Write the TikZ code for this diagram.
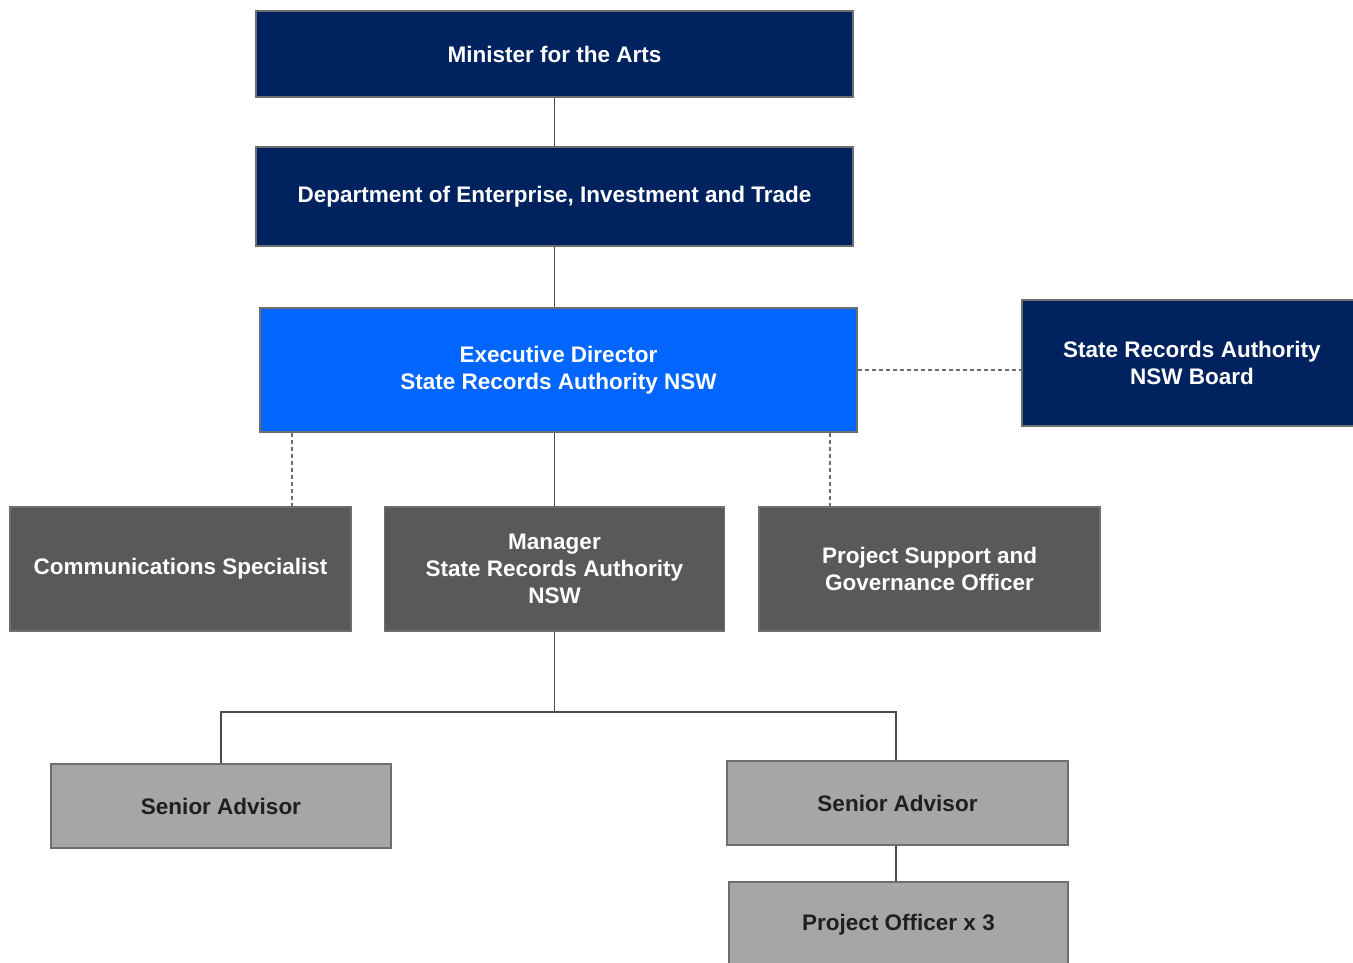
\documentclass[tikz,border=0pt]{standalone}
\usepackage{fontspec}
\setmainfont{Liberation Sans}
\definecolor{navy}{HTML}{002360}
\definecolor{brightblue}{HTML}{0066FF}
\definecolor{darkgrey}{HTML}{595959}
\definecolor{lightgrey}{HTML}{A6A6A6}
\definecolor{edgegrey}{HTML}{6E6E6E}
\definecolor{linegrey}{HTML}{4A4A4A}
\tikzset{
  box/.style={draw=edgegrey, line width=1.2pt, inner sep=0pt, align=center,
    font=\fontsize{22.5}{27}\selectfont\bfseries},
  navybox/.style={box, fill=navy, text=white},
  bluebox/.style={box, fill=brightblue, text=white},
  darkbox/.style={box, fill=darkgrey, text=white},
  lightbox/.style={box, fill=lightgrey, text=black!88},
  solidlink/.style={draw=linegrey, line width=1.5pt},
  dashlink/.style={draw=edgegrey, line width=1.5pt, dash pattern=on 4pt off 3pt},
}
\begin{document}
\begin{tikzpicture}[x=1pt,y=-1pt]
\useasboundingbox (0,0) rectangle (1353,962);
\node[navybox, minimum width=597pt, minimum height=86pt] (min) at (554.5,54) {Minister for the Arts};
\node[navybox, minimum width=597pt, minimum height=99pt] (dept) at (554.5,196.5) {Department of Enterprise, Investment and Trade};
\node[bluebox, minimum width=597pt, minimum height=124pt] (exec) at (558.5,370) {Executive Director\\State Records Authority NSW};
\node[navybox, minimum width=340pt, minimum height=126pt] (board) at (1192,363) {State Records Authority\\NSW Board};
\node[darkbox, minimum width=341pt, minimum height=124pt] (comm) at (180.5,569) {Communications Specialist};
\node[darkbox, minimum width=340pt, minimum height=124pt] (mgr) at (554.5,569) {Manager\\State Records Authority\\NSW};
\node[darkbox, minimum width=341pt, minimum height=124pt] (proj) at (929.5,569) {Project Support and\\Governance Officer};
\node[lightbox, minimum width=340pt, minimum height=84pt] (sa1) at (221,806) {Senior Advisor};
\node[lightbox, minimum width=341pt, minimum height=84pt] (sa2) at (897.5,803) {Senior Advisor};
\node[lightbox, minimum width=339pt, minimum height=86pt] (po) at (898.5,925) {Project Officer x 3};
\coordinate (split) at (554.5,712);
\coordinate (commx) at (292,0);
\coordinate (projx) at (830,0);
\coordinate (sa2x) at (896,0);
\draw[solidlink] (min.south) -- (dept.north);
\draw[solidlink] (dept.south) -- (dept.south |- exec.north);
\draw[dashlink] (exec.east) -- (exec.east -| board.west);
\draw[dashlink] (exec.south -| commx) -- (comm.north -| commx);
\draw[dashlink] (exec.south -| projx) -- (proj.north -| projx);
\draw[solidlink] (mgr.north) -- (mgr.north |- exec.south);
\draw[solidlink] (mgr.south) -- (split) -| (sa1.north);
\draw[solidlink] (split) -| (sa2.north -| sa2x);
\draw[solidlink] (sa2.south -| sa2x) -- (po.north -| sa2x);
\end{tikzpicture}
\end{document}
